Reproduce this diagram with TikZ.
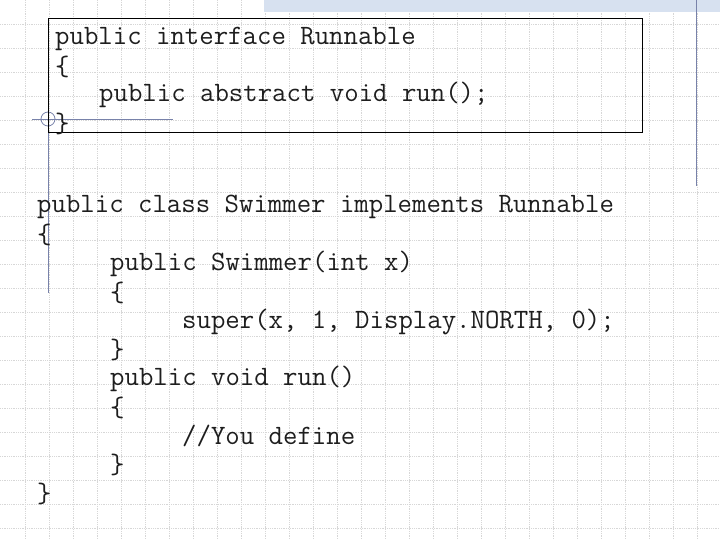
\documentclass[tikz,border=0pt]{standalone}
\definecolor{gridc}{RGB}{215,215,215}
\definecolor{deco}{RGB}{120,130,170}
\definecolor{strip}{RGB}{215,225,240}
\definecolor{txt}{RGB}{30,30,30}
\begin{document}
\begin{tikzpicture}[x=1pt,y=-1pt,
  code/.style={anchor=west,inner sep=0pt,font=\ttfamily\fontsize{28}{30}\selectfont,text=txt}]
\useasboundingbox (0,0) rectangle (720,540);
\fill[white] (0,0) rectangle (720,540);
\foreach \x in {1,...,29} \draw[gridc,densely dotted,line width=0.8pt] (\x*24+1,0) -- (\x*24+1,540);
\foreach \y in {1,...,22} \draw[gridc,densely dotted,line width=0.8pt] (0,\y*24) -- (720,\y*24);
\fill[strip] (264,0) rectangle (720,12);
\draw[deco,line width=1pt] (696,0) -- (696,186);
\draw[deco,line width=1pt] (32,120) -- (173,120);
\draw[deco,line width=1pt] (48,112) -- (48,293);
\draw[deco,line width=0.8pt] (48,119) circle (7);
\node[draw=black,line width=1.2pt,minimum width=594,minimum height=114,anchor=north west,inner sep=0] (box) at (48,18) {};
\node[code] (l1) at (55,39) {public interface Runnable};
\node[code] (l2) at (55,67) {\{};
\node[code] (l3) at (99,95) {public abstract void run();};
\node[code] (l4) at (55,124) {\}};
\node[code] (m1) at (37,207) {public class Swimmer implements Runnable};
\node[code] (m2) at (37,235) {\{};
\node[code] (m3) at (110,264) {public Swimmer(int x)};
\node[code] (m4) at (110,293) {\{};
\node[code] (m5) at (182,322) {super(x, 1, Display.NORTH, 0);};
\node[code] (m6) at (110,350) {\}};
\node[code] (m7) at (110,379) {public void run()};
\node[code] (m8) at (110,408) {\{};
\node[code] (m9) at (182,436) {//You define};
\node[code] (m10) at (110,465) {\}};
\node[code] (m11) at (37,494) {\}};
\end{tikzpicture}
\end{document}
